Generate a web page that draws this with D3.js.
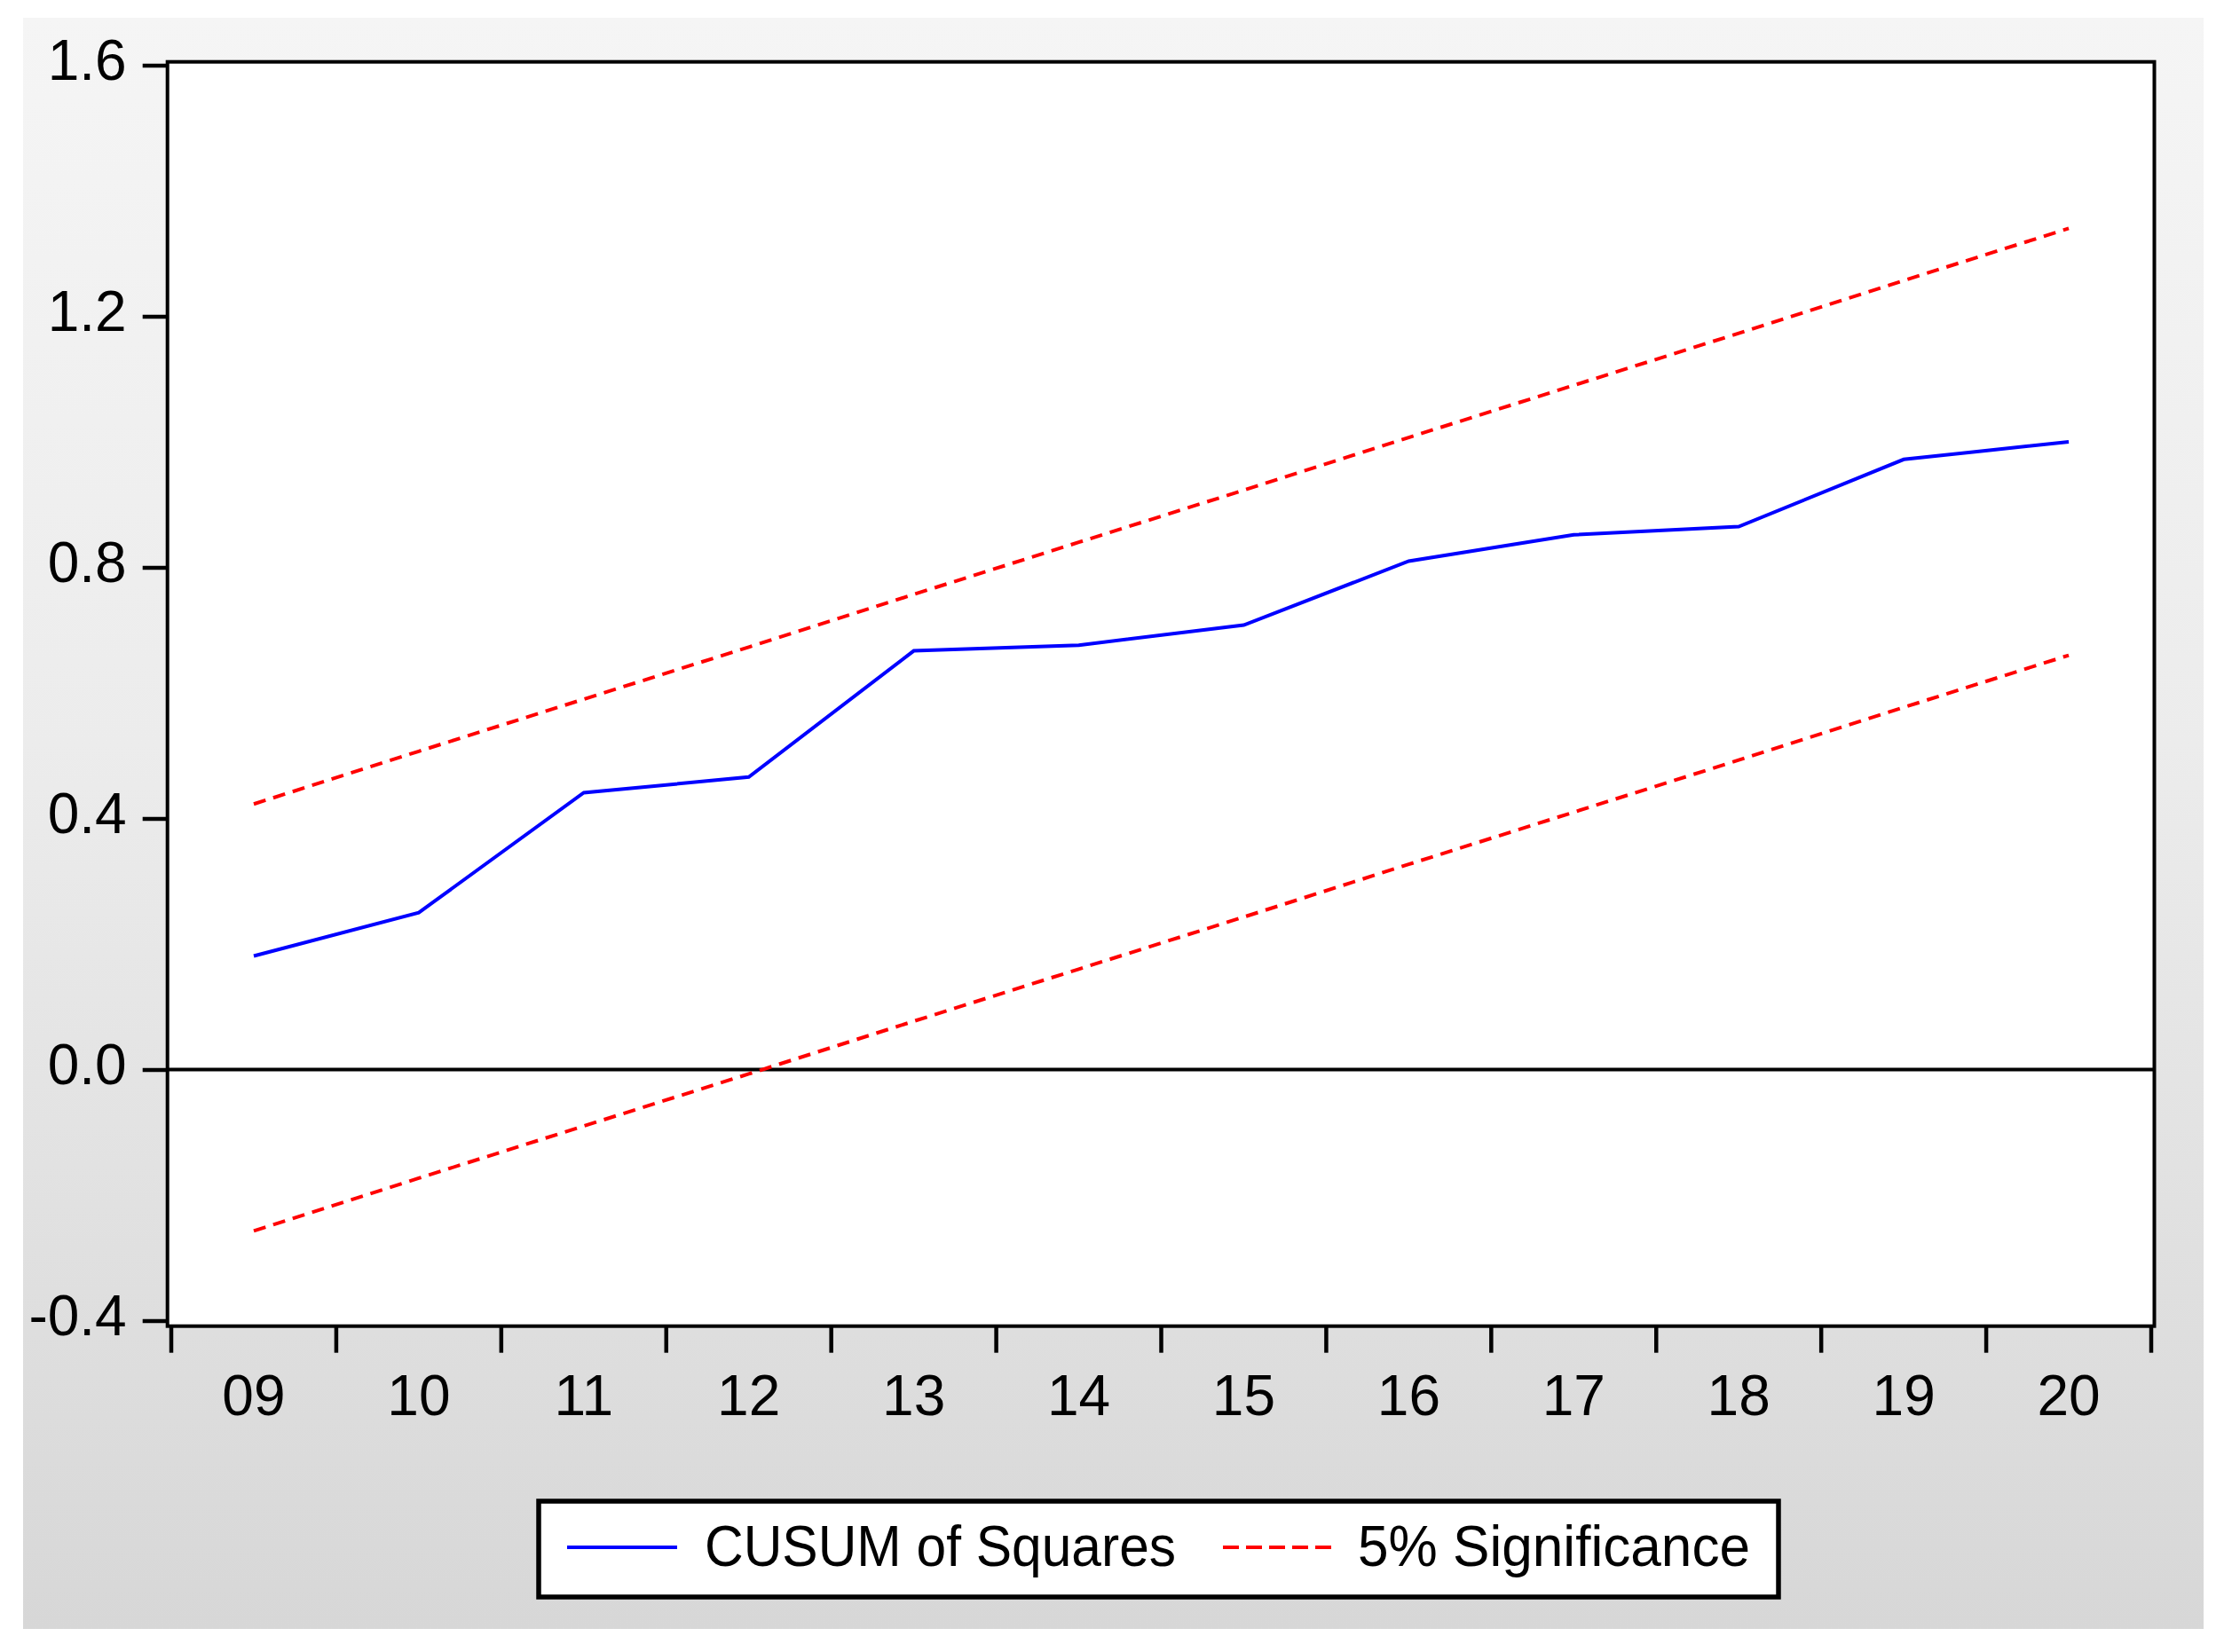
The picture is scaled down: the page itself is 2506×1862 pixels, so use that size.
<!DOCTYPE html>
<html>
<head>
<meta charset="utf-8">
<script src="https://cdn.jsdelivr.net/npm/d3@7"></script>
<style>
  html, body { margin: 0; padding: 0; background: #ffffff; }
  svg { display: block; }
  text { font-family: "Liberation Sans", Arial, sans-serif; fill: #000; }
</style>
</head>
<body>
<svg id="chart" width="2506" height="1862"></svg>
<script>
// ---- data ----
const years = ["09", "10", "11", "12", "13", "14", "15", "16", "17", "18", "19", "20"];
const cusumSq = [0.181, 0.250, 0.441, 0.466, 0.667, 0.676, 0.708, 0.810, 0.852, 0.865, 0.972, 1.000];
const upper5 = [0.423, 0.507, 0.590, 0.673, 0.757, 0.840, 0.923, 1.007, 1.090, 1.173, 1.257, 1.340];
const lower5 = [-0.257, -0.173, -0.090, -0.007, 0.077, 0.160, 0.243, 0.327, 0.410, 0.493, 0.577, 0.660];
const yTickValues = [-0.4, 0.0, 0.4, 0.8, 1.2, 1.6];
const yTickLabels = ["-0.4", "0.0", "0.4", "0.8", "1.2", "1.6"];
const legendLabels = ["CUSUM of Squares", "5% Significance"];

// ---- layout ----
const svg = d3.select("#chart");
const frame = { left: 188.7, top: 69.7, right: 2427.5, bottom: 1494.7 };

const defs = svg.append("defs");
const grad = defs.append("linearGradient").attr("id", "bg").attr("x1", 0).attr("y1", 0).attr("x2", 0).attr("y2", 1);
grad.append("stop").attr("offset", "0%").attr("stop-color", "#f5f5f5");
grad.append("stop").attr("offset", "45%").attr("stop-color", "#ececec");
grad.append("stop").attr("offset", "100%").attr("stop-color", "#d7d7d7");

svg.append("rect").attr("x", 26).attr("y", 20).attr("width", 2483 - 26).attr("height", 1836 - 20)
  .attr("fill", "url(#bg)");

const x = d3.scaleBand().domain(years).range([193, 2424]).padding(0);
const y = d3.scaleLinear().domain([-0.4, 1.6]).range([1488.5, 73.5]);
const cx = d => x(d) + x.bandwidth() / 2;

// plot area
svg.append("rect").attr("x", frame.left).attr("y", frame.top)
  .attr("width", frame.right - frame.left).attr("height", frame.bottom - frame.top)
  .attr("fill", "#ffffff");

// y axis
const yAxis = d3.axisLeft(y).tickValues(yTickValues)
  .tickFormat((d, i) => yTickLabels[i]).tickSize(28).tickPadding(18);
const gy = svg.append("g").attr("transform", `translate(${frame.left},0)`).call(yAxis);
gy.select(".domain").remove();
gy.selectAll(".tick line").attr("stroke", "#000").attr("stroke-width", 4.5);
gy.selectAll(".tick text").attr("font-size", 64).attr("dy", "0.25em")
  .attr("font-family", "'Liberation Sans', Arial, sans-serif").attr("fill", "#000");

// x axis: labels centered in bands, ticks at band boundaries
const xAxis = d3.axisBottom(x).tickSize(0).tickPadding(0);
const gx = svg.append("g").attr("transform", `translate(0,${frame.bottom})`).call(xAxis);
gx.select(".domain").remove();
gx.selectAll(".tick text").attr("font-size", 64).attr("y", 100).attr("dy", 0)
  .attr("font-family", "'Liberation Sans', Arial, sans-serif").attr("fill", "#000");
const boundaries = years.map(d => x(d)).concat([x.range()[1]]);
svg.append("g").selectAll("line").data(boundaries).join("line")
  .attr("x1", d => d).attr("x2", d => d)
  .attr("y1", frame.bottom).attr("y2", frame.bottom + 30)
  .attr("stroke", "#000").attr("stroke-width", 4.5);

// zero line
svg.append("line").attr("x1", frame.left).attr("x2", frame.right)
  .attr("y1", y(0)).attr("y2", y(0)).attr("stroke", "#000").attr("stroke-width", 4);

// series
const line = d3.line().x((d, i) => cx(years[i])).y(d => y(d));
svg.append("path").datum(upper5).attr("d", line).attr("fill", "none")
  .attr("stroke", "#ff0000").attr("stroke-width", 4).attr("stroke-dasharray", "14,9");
svg.append("path").datum(lower5).attr("d", line).attr("fill", "none")
  .attr("stroke", "#ff0000").attr("stroke-width", 4).attr("stroke-dasharray", "14,9");
svg.append("path").datum(cusumSq).attr("d", line).attr("fill", "none")
  .attr("stroke", "#0000ff").attr("stroke-width", 4);

// frame
svg.append("rect").attr("x", frame.left).attr("y", frame.top)
  .attr("width", frame.right - frame.left).attr("height", frame.bottom - frame.top)
  .attr("fill", "none").attr("stroke", "#000").attr("stroke-width", 4);

// legend
const lg = svg.append("g");
lg.append("rect").attr("x", 607).attr("y", 1692).attr("width", 1397).attr("height", 108)
  .attr("fill", "#ffffff").attr("stroke", "#000").attr("stroke-width", 5.5);
lg.append("line").attr("x1", 639).attr("x2", 763).attr("y1", 1744).attr("y2", 1744)
  .attr("stroke", "#0000ff").attr("stroke-width", 4);
lg.append("text").attr("x", 794).attr("y", 1765).attr("font-size", 65)
  .attr("textLength", 531).attr("lengthAdjust", "spacingAndGlyphs").text(legendLabels[0]);
lg.append("line").attr("x1", 1378).attr("x2", 1500).attr("y1", 1744).attr("y2", 1744)
  .attr("stroke", "#ff0000").attr("stroke-width", 4).attr("stroke-dasharray", "18,8");
lg.append("text").attr("x", 1530).attr("y", 1765).attr("font-size", 65)
  .attr("textLength", 442).attr("lengthAdjust", "spacingAndGlyphs").text(legendLabels[1]);
</script>
</body>
</html>
